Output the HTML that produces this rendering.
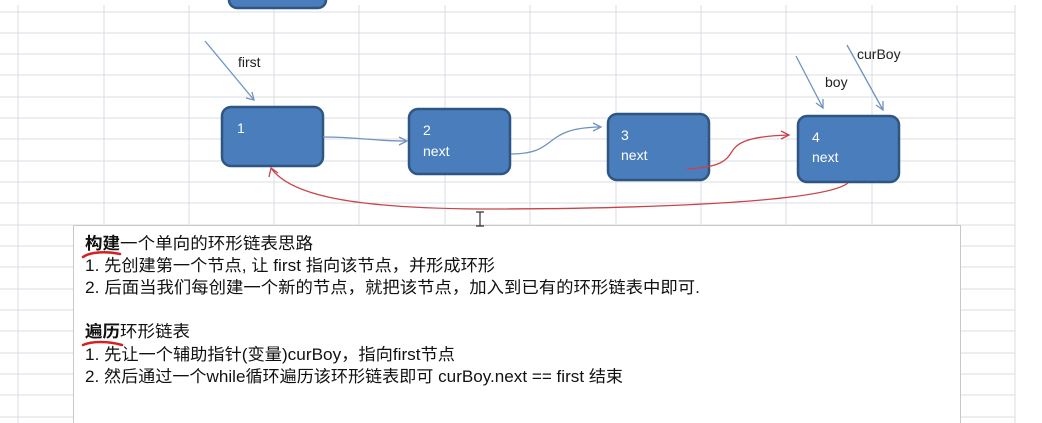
<!DOCTYPE html>
<html><head><meta charset="utf-8"><style>
html,body{margin:0;padding:0;background:#fff;width:1042px;height:423px;overflow:hidden}
svg{position:absolute;left:0;top:0}
text{font-family:"Liberation Sans","Noto Sans CJK SC",sans-serif}
</style></head><body>
<svg width="1042" height="423" viewBox="0 0 1042 423">
<g stroke="#d9dde3" stroke-width="1">
<line x1="0" y1="12" x2="1015" y2="12"/><line x1="0" y1="33" x2="1015" y2="33"/><line x1="0" y1="54" x2="1015" y2="54"/><line x1="0" y1="75" x2="1015" y2="75"/><line x1="0" y1="97" x2="1015" y2="97"/><line x1="0" y1="118" x2="1015" y2="118"/><line x1="0" y1="139" x2="1015" y2="139"/><line x1="0" y1="161" x2="1015" y2="161"/><line x1="0" y1="182" x2="1015" y2="182"/><line x1="0" y1="203" x2="1015" y2="203"/><line x1="0" y1="225" x2="1015" y2="225"/><line x1="0" y1="246" x2="1015" y2="246"/><line x1="0" y1="267" x2="1015" y2="267"/><line x1="0" y1="289" x2="1015" y2="289"/><line x1="0" y1="310" x2="1015" y2="310"/><line x1="0" y1="331" x2="1015" y2="331"/><line x1="0" y1="353" x2="1015" y2="353"/><line x1="0" y1="374" x2="1015" y2="374"/><line x1="0" y1="395" x2="1015" y2="395"/><line x1="0" y1="417" x2="1015" y2="417"/>
<line x1="18" y1="5" x2="18" y2="423"/><line x1="104" y1="5" x2="104" y2="423"/><line x1="189" y1="5" x2="189" y2="423"/><line x1="274" y1="5" x2="274" y2="423"/><line x1="359" y1="5" x2="359" y2="423"/><line x1="445" y1="5" x2="445" y2="423"/><line x1="530" y1="5" x2="530" y2="423"/><line x1="616" y1="5" x2="616" y2="423"/><line x1="701" y1="5" x2="701" y2="423"/><line x1="786" y1="5" x2="786" y2="423"/><line x1="872" y1="5" x2="872" y2="423"/><line x1="957" y1="5" x2="957" y2="423"/><line x1="1015" y1="5" x2="1015" y2="423"/>
</g>
<g fill="#4a7dbb" stroke="#2f5583" stroke-width="2.5">
<rect x="229" y="-12" width="97" height="20" rx="8"/>
<rect x="222" y="107" width="101" height="59" rx="9"/>
<rect x="409" y="109" width="101" height="65" rx="9"/>
<rect x="608" y="114" width="101" height="66" rx="9"/>
<rect x="798" y="116" width="101" height="66" rx="9"/>
</g>
<g fill="#fff" font-size="14">
<text x="237" y="133">1</text>
<text x="423" y="135">2</text><text x="423" y="156">next</text>
<text x="621" y="140">3</text><text x="621" y="160">next</text>
<text x="812" y="142">4</text><text x="812" y="162">next</text>
</g>
<g fill="#222" font-size="14">
<text x="238" y="67">first</text>
<text x="825" y="87">boy</text>
<text x="857" y="59">curBoy</text>
</g>
<g stroke="#6f93c0" stroke-width="1.3" fill="none">
<line x1="205" y1="41" x2="254" y2="100"/><path d="M246 98 L254 100 L252 92"/>
<line x1="796" y1="56" x2="823" y2="108"/><path d="M816 103 L823 108 L823 99"/>
<line x1="847" y1="45" x2="883" y2="110"/><path d="M876 105 L883 110 L883 101"/>
<path d="M323 137 C360 137 370 141 406 141"/><path d="M399 137 L407 141 L399 145"/>
<path d="M511 154 C560 154 540 128 600 127"/><path d="M593 123 L601 127 L593 131"/>
</g>
<g stroke="#c9444a" stroke-width="1.3" fill="none">
<path d="M687 169 C760 165 700 138 788 135"/><path d="M781 131 L789 135 L781 139"/>
<path d="M848 183 C820 205 600 209 480 209 C350 208 290 195 271 168"/><path d="M269 177 L271 168 L278 173"/>
</g>
<rect x="73.5" y="225.5" width="887" height="200" fill="#fff" stroke="#c8c8c8"/>
<g fill="#111" font-size="16.5">
<text x="85" y="249" textLength="228" lengthAdjust="spacingAndGlyphs"><tspan font-weight="bold">构建</tspan>一个单向的环形链表思路</text>
<text x="85" y="271" textLength="410" lengthAdjust="spacingAndGlyphs">1. 先创建第一个节点, 让 first 指向该节点，并形成环形</text>
<text x="85" y="293" textLength="615" lengthAdjust="spacingAndGlyphs">2. 后面当我们每创建一个新的节点，就把该节点，加入到已有的环形链表中即可.</text>
<text x="85" y="337" textLength="105" lengthAdjust="spacingAndGlyphs"><tspan font-weight="bold">遍历</tspan>环形链表</text>
<text x="85" y="360" textLength="370" lengthAdjust="spacingAndGlyphs">1. 先让一个辅助指针(变量)curBoy，指向first节点</text>
<text x="85" y="382" textLength="538" lengthAdjust="spacingAndGlyphs">2. 然后通过一个while循环遍历该环形链表即可 curBoy.next == first 结束</text>
</g>
<g stroke="#d42020" stroke-width="2.5" fill="none" stroke-linecap="round">
<path d="M83 257 C90 252 105 251 120 254"/>
<path d="M83 345 C92 341 108 341 122 345"/>
</g>
<path d="M476 212 L484 212 M480 212 L480 226 M476 226 L484 226" stroke="#333" stroke-width="1.2"/>
</svg>
</body></html>
